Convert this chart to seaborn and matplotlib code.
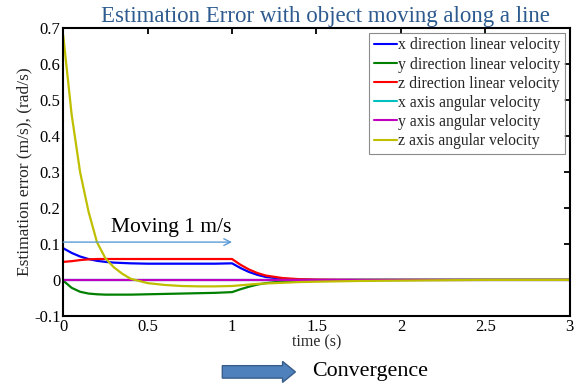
import numpy as np
import pandas as pd
import matplotlib
matplotlib.use("Agg")
import matplotlib.pyplot as plt
import seaborn as sns
from matplotlib.patches import FancyArrow

# ---- data ----
time_s = [0, 0.05, 0.1, 0.15, 0.2, 0.25, 0.3, 0.35, 0.4, 0.5, 0.6, 0.7, 0.8, 0.9, 1.0,
          1.05, 1.1, 1.15, 1.2, 1.3, 1.4, 1.5, 1.75, 2.0, 2.25, 2.5, 2.75, 3.0]
x_lin = [0.088, 0.075, 0.065, 0.058, 0.053, 0.050, 0.048, 0.047, 0.046, 0.045, 0.045, 0.045, 0.045, 0.045, 0.046,
         0.033, 0.022, 0.014, 0.008, 0.003, 0.001, 0.0, 0.0, 0.0, 0.0, 0.0, 0.0, 0.0]
y_lin = [-0.002, -0.022, -0.033, -0.038, -0.040, -0.041, -0.041, -0.041, -0.041, -0.040, -0.039, -0.038, -0.037, -0.036, -0.034,
         -0.026, -0.019, -0.013, -0.009, -0.004, -0.002, -0.001, 0.0, 0.0, 0.0, 0.0, 0.0, 0.0]
z_lin = [0.050, 0.052, 0.055, 0.057, 0.058, 0.058, 0.058, 0.058, 0.058, 0.058, 0.058, 0.058, 0.058, 0.058, 0.058,
         0.042, 0.029, 0.019, 0.012, 0.005, 0.002, 0.001, 0.0, 0.0, 0.0, 0.0, 0.0, 0.0]
x_ang = [0.0] * 28
y_ang = [0.0] * 28
z_ang = [0.68, 0.46, 0.30, 0.19, 0.105, 0.06, 0.035, 0.017, 0.003, -0.009, -0.014, -0.017, -0.018, -0.018, -0.017,
         -0.015, -0.013, -0.011, -0.010, -0.008, -0.006, -0.005, -0.003, -0.002, -0.001, 0.0, 0.0, 0.0]

series_names = ["x direction linear velocity", "y direction linear velocity", "z direction linear velocity",
                "x axis angular velocity", "y axis angular velocity", "z axis angular velocity"]
series_values = [x_lin, y_lin, z_lin, x_ang, y_ang, z_ang]
series_colors = ["#0000FF", "#008000", "#FF0000", "#00BFBF", "#BF00BF", "#BFBF00"]

x_ticks = [0, 0.5, 1, 1.5, 2, 2.5, 3]
x_tick_labels = ["0", "0.5", "1", "1.5", "2", "2.5", "3"]
y_ticks = [-0.1, 0, 0.1, 0.2, 0.3, 0.4, 0.5, 0.6, 0.7]
y_tick_labels = ["-0.1", "0", "0.1", "0.2", "0.3", "0.4", "0.5", "0.6", "0.7"]

title_text = "Estimation Error with object moving along a line"
xlabel_text = "time (s)"
ylabel_text = "Estimation error (m/s), (rad/s)"
moving_text = "Moving 1 m/s"
moving_y = 0.105
moving_t = [0.0, 1.0]
conv_text = "Convergence"

# ---- build long table ----
frames = []
for name, vals in zip(series_names, series_values):
    frames.append(pd.DataFrame({"time": time_s, "err": vals, "series": name}))
df = pd.concat(frames, ignore_index=True)

sns.set_theme(style="white")
plt.rcParams["font.family"] = ["Liberation Serif", "DejaVu Serif"]

fig = plt.figure(figsize=(5.85, 3.89), dpi=100)
ax = fig.add_axes([0.108, 0.188, 0.866, 0.740])

sns.lineplot(data=df, x="time", y="err", hue="series", hue_order=series_names,
             palette=dict(zip(series_names, series_colors)), linewidth=1.6, ax=ax,
             legend=True, estimator=None, sort=False)

ax.set_xlim(0, 3)
ax.set_ylim(-0.1, 0.7)
ax.set_xticks(x_ticks)
ax.set_xticklabels(x_tick_labels)
ax.set_yticks(y_ticks)
ax.set_yticklabels(y_tick_labels)
ax.tick_params(direction="in", length=4, width=1.3, top=True, right=True,
               labelsize=12, colors="black", pad=2)
for sp in ax.spines.values():
    sp.set_color("black")
    sp.set_linewidth(1.5)

ax.set_xlabel(xlabel_text, fontsize=11.5, labelpad=0)
ax.set_ylabel(ylabel_text, fontsize=12.5, labelpad=1)
ax.set_title(title_text, fontsize=16.5, color="#2E5B8F", pad=4, x=0.517)

leg = ax.legend(loc="upper right", bbox_to_anchor=(1.0, 1.0), borderaxespad=0.3,
                fontsize=11.3, frameon=True, fancybox=False, handlelength=1.45,
                handletextpad=0.1, labelspacing=0.2, borderpad=0.3)
leg.get_frame().set_edgecolor("#707070")
leg.get_frame().set_linewidth(0.8)
for h in leg.get_lines():
    h.set_linewidth(1.5)

# Moving annotation
ax.annotate("", xy=(moving_t[1], moving_y), xytext=(moving_t[0], moving_y),
            arrowprops=dict(arrowstyle="->", color="#5B9BD5", lw=1.0, shrinkA=0, shrinkB=0))
ax.text(0.285, 0.118, moving_text, fontsize=15.5, color="black", ha="left", va="bottom")

# Convergence block arrow
arr = FancyArrow(0.38, 0.044, 0.125, 0.0, width=0.032, head_width=0.054,
                 head_length=0.022, length_includes_head=True,
                 transform=fig.transFigure, facecolor="#4F81BD", edgecolor="#385D8A", lw=1.0)
fig.patches.append(arr)
fig.text(0.533, 0.044, conv_text, fontsize=15.8, ha="left", va="center", color="black")

fig.savefig("out.png", dpi=100)
